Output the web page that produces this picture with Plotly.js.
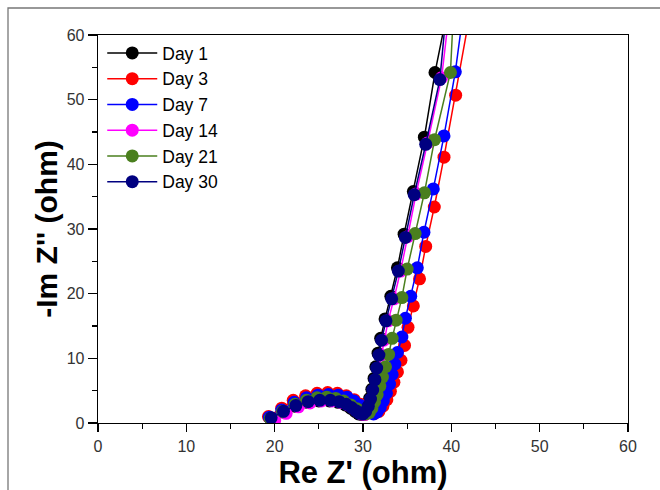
<!DOCTYPE html>
<html>
<head>
<meta charset="utf-8">
<script src="https://cdn.plot.ly/plotly-3.0.1.min.js"></script>
<style>html,body{margin:0;padding:0;background:#fff;}#chart{width:660px;height:490px;}</style>
</head>
<body>
<div id="chart"></div>
<script>
// Day 1
var day1X = [19.5, 20.9, 22.3, 23.7, 25.0, 26.2, 27.2, 28.0, 28.6, 29.1, 29.5, 29.9, 30.2, 30.5, 30.75, 31.0, 31.25, 31.45, 31.7, 32.0, 32.5, 33.15, 33.9, 34.65, 35.7, 36.95, 38.15, 39.6];
var day1Y = [0.7, 1.7, 2.6, 3.2, 3.4, 3.4, 3.2, 2.8, 2.3, 1.8, 1.4, 1.3, 1.7, 2.6, 3.8, 5.2, 6.9, 8.7, 10.8, 13.1, 16.1, 19.6, 24.0, 29.2, 35.8, 44.2, 54.2, 64];
// Day 3
var day3X = [19.3, 20.8, 22.1, 23.5, 24.8, 26.0, 27.1, 28.1, 29.0, 29.7, 30.3, 30.8, 31.3, 31.8, 32.25, 32.7, 33.1, 33.5, 33.9, 34.3, 34.7, 35.1, 35.7, 36.4, 37.1, 38.07, 39.17, 40.49, 42.2];
var day3Y = [1.0, 2.3, 3.5, 4.2, 4.6, 4.7, 4.6, 4.2, 3.6, 2.9, 2.2, 1.7, 1.5, 1.8, 2.6, 3.6, 4.9, 6.3, 7.9, 9.7, 12.0, 14.8, 18.1, 22.3, 27.3, 33.4, 41.1, 50.7, 64];
// Day 7
var day7X = [19.4, 20.8, 22.2, 23.6, 24.9, 26.1, 27.2, 28.2, 29.0, 29.7, 30.3, 30.8, 31.2, 31.6, 31.95, 32.3, 32.65, 33.0, 33.3, 33.6, 33.9, 34.4, 34.8, 35.4, 36.15, 36.9, 37.96, 39.17, 40.45, 41.4];
var day7Y = [0.9, 2.0, 3.2, 3.9, 4.3, 4.4, 4.3, 4.0, 3.4, 2.7, 2.1, 1.6, 1.4, 1.7, 2.4, 3.4, 4.6, 6.0, 7.5, 9.1, 10.9, 13.3, 16.2, 19.6, 24.0, 29.5, 36.2, 44.4, 54.3, 64];
// Day 14
var day14X = [20.0, 21.3, 22.7, 24.0, 25.3, 26.5, 27.5, 28.3, 28.9, 29.4, 29.8, 30.2, 30.5, 30.8, 31.05, 31.3, 31.55, 31.8, 32.05, 32.35, 32.85, 33.5, 34.25, 35.05, 36.0, 37.3, 38.9, 39.8];
var day14Y = [0.4, 1.5, 2.5, 3.1, 3.4, 3.4, 3.2, 2.8, 2.3, 1.8, 1.4, 1.3, 1.7, 2.6, 3.7, 5.1, 6.7, 8.5, 10.5, 12.8, 15.8, 19.2, 23.5, 28.8, 35.4, 43.3, 53.4, 64];
// Day 21
var day21X = [19.5, 20.9, 22.3, 23.6, 24.8, 25.9, 26.9, 27.8, 28.6, 29.3, 29.85, 30.3, 30.7, 31.0, 31.3, 31.6, 31.9, 32.2, 32.55, 32.9, 33.3, 33.75, 34.4, 35.0, 35.9, 36.95, 38.1, 39.9, 40.25];
var day21Y = [0.7, 1.8, 2.9, 3.5, 3.9, 4.0, 3.8, 3.4, 2.8, 2.2, 1.7, 1.4, 1.6, 2.3, 3.3, 4.4, 5.7, 7.1, 8.7, 10.6, 13.1, 15.9, 19.4, 23.8, 29.3, 35.6, 43.8, 54.2, 64];
// Day 30
var day30X = [19.6, 21.0, 22.4, 23.8, 25.1, 26.3, 27.3, 28.1, 28.7, 29.2, 29.6, 30.0, 30.3, 30.6, 30.85, 31.1, 31.35, 31.55, 31.8, 32.1, 32.6, 33.25, 34.0, 34.8, 35.8, 37.1, 38.7, 39.45];
var day30Y = [0.8, 1.8, 2.7, 3.3, 3.5, 3.5, 3.3, 2.9, 2.4, 1.9, 1.5, 1.4, 1.8, 2.6, 3.7, 5.1, 6.7, 8.5, 10.5, 12.8, 15.8, 19.2, 23.5, 28.7, 35.3, 43.1, 53.1, 64];

var seriesNames = ["Day 1", "Day 3", "Day 7", "Day 14", "Day 21", "Day 30"];
var seriesColors = ["#000000", "#ff0000", "#0000ff", "#ff00ff", "#4a7f1e", "#000080"];
var xs = [day1X, day3X, day7X, day14X, day21X, day30X];
var ys = [day1Y, day3Y, day7Y, day14Y, day21Y, day30Y];

var xTickVals = [0, 10, 20, 30, 40, 50, 60];
var yTickVals = [0, 10, 20, 30, 40, 50, 60];

var traces = seriesNames.map(function (n, i) {
  return {
    type: "scatter", mode: "lines+markers", name: n,
    x: xs[i], y: ys[i],
    line: {color: seriesColors[i], width: 1.5},
    marker: {color: seriesColors[i], size: 13, line: {width: 0}},
    cliponaxis: true
  };
});

var font = "Liberation Sans, Arial, sans-serif";
var layout = {
  width: 660, height: 490,
  margin: {l: 98, r: 32, t: 35, b: 67},
  paper_bgcolor: "#ffffff", plot_bgcolor: "#ffffff",
  showlegend: true,
  legend: {
    x: 0.008, y: 1.0, xanchor: "left", yanchor: "top",
    bgcolor: "rgba(0,0,0,0)", borderwidth: 0,
    font: {family: font, size: 17.5, color: "#000"},
    itemwidth: 50, tracegroupgap: 0
  },
  xaxis: {
    range: [0, 60], tickvals: xTickVals, ticktext: xTickVals.map(String),
    showgrid: false, zeroline: false,
    showline: true, linecolor: "#000", linewidth: 1.3, mirror: true,
    ticks: "outside", ticklen: 8, tickwidth: 1.3, tickcolor: "#000",
    minor: {dtick: 5, ticks: "outside", ticklen: 5, tickwidth: 1.3, tickcolor: "#000", showgrid: false},
    tickfont: {family: font, size: 16, color: "#333"},
    title: {text: "Re Z' (ohm)", font: {family: font, size: 31, color: "#000", weight: "bold"}, standoff: 23},
    automargin: false
  },
  yaxis: {
    range: [0, 60], tickvals: yTickVals, ticktext: yTickVals.map(String),
    showgrid: false, zeroline: false,
    showline: true, linecolor: "#000", linewidth: 1.3, mirror: true,
    ticks: "outside", ticklen: 9, tickwidth: 1.3, tickcolor: "#000",
    minor: {dtick: 5, ticks: "outside", ticklen: 5, tickwidth: 1.3, tickcolor: "#000", showgrid: false},
    tickfont: {family: font, size: 16, color: "#333"},
    title: {text: "-Im Z'' (ohm)", font: {family: font, size: 30, color: "#000", weight: "bold"}, standoff: 0},
    automargin: false
  },
  shapes: [{
    type: "rect", xref: "paper", yref: "paper",
    x0: (8 - 98) / 530, x1: (680 - 98) / 530,
    y0: (423 - 510) / 388, y1: (423 - 8) / 388,
    line: {color: "#777", width: 1.3}, fillcolor: "rgba(0,0,0,0)", layer: "below"
  }]
};

Plotly.newPlot("chart", traces, layout, {displayModeBar: false, staticPlot: true});
</script>
</body>
</html>
